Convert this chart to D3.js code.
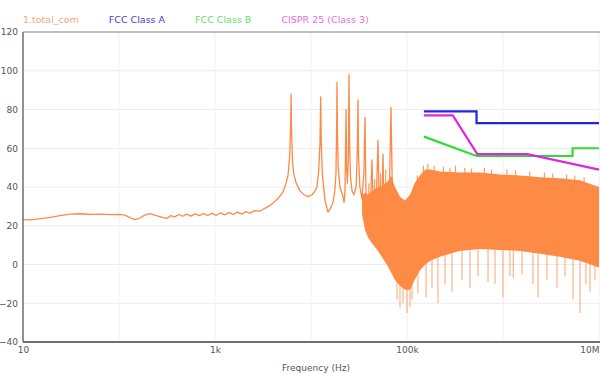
<!DOCTYPE html>
<html>
<head>
<meta charset="utf-8">
<script src="https://cdn.jsdelivr.net/npm/d3@7"></script>
<style>
  html, body { margin: 0; padding: 0; background: #fff; overflow: hidden; }
  svg { display: block; }
  text { font-family: "DejaVu Sans", sans-serif; }
</style>
</head>
<body>
<svg id="chart" width="600" height="374"></svg>
<script>
// ---- data (Hz, dBuV) ----
const seriesNames = ["1.total_com", "FCC Class A", "FCC Class B", "CISPR 25 (Class 3)"];

// clean part of the spectrum with its resonance peaks
const lowTrace = [
  [10, 23.2], [12, 23], [16, 23.8], [20, 24.5], [25, 25.3], [31, 26], [40, 26.2], [50, 25.8],
  [63, 26], [80, 25.7], [100, 25.9], [115, 25.5], [130, 24.2], [147, 23.2], [165, 24], [185, 25.5],
  [210, 26.3], [235, 25.5], [260, 24.8], [290, 24.2], [316, 23.8], [345, 25.2], [380, 24.6],
  [420, 25.8], [460, 24.9], [510, 26], [560, 25], [620, 26.1], [690, 25.2], [760, 26.3],
  [840, 25.3], [930, 26.4], [1030, 25.4], [1140, 26.6], [1260, 25.6], [1400, 26.8], [1550, 25.8],
  [1720, 27], [1900, 26], [2100, 27.3], [2320, 26.5], [2600, 27.8], [2940, 27.5], [3300, 29],
  [3740, 30.5], [4200, 32.5], [4700, 35], [5110, 37.5], [5500, 42], [5760, 46], [6000, 56],
  [6150, 75], [6200, 88], [6260, 72], [6400, 54], [6600, 47], [7000, 42], [7674, 38], [8500, 36],
  [9310, 35], [10300, 36], [11000, 38], [11548, 40], [12000, 48], [12400, 62], [12614, 86.5],
  [12800, 62], [13100, 48], [13335, 43], [14000, 33], [15030, 27], [16000, 29], [16940, 32],
  [17700, 38], [18200, 47], [18500, 70], [18660, 94], [18850, 70], [19200, 50], [20050, 40],
  [21540, 35], [22100, 32], [22600, 38], [23170, 80], [23500, 50], [23900, 42], [24500, 55],
  [24880, 98], [25300, 60], [25800, 45], [26730, 38], [28000, 36], [29500, 40], [30400, 60],
  [30860, 85], [31300, 55], [32300, 40], [33970, 34], [35600, 48], [36520, 76], [37300, 40],
  [38500, 22], [39250, 17], [41500, 30], [43190, 54], [44500, 28], [47000, 20], [49880, 64],
  [51500, 26], [54000, 18], [56230, 57], [58000, 22], [62000, 15], [66000, 45], [68100, 81],
  [70000, 45], [73000, 20], [78000, 5]
];

// dense noise band above ~30 kHz: upper and lower edge
const bandFreq = [33970, 36520, 39250, 43190, 49880, 56230, 63400, 68100, 75000, 84500, 95300,
  107500, 120000, 136500, 155000, 175000, 220000, 350000, 575000, 930000, 1500000, 2430000,
  3900000, 6300000, 10000000];
const bandHigh = [36, 37, 36, 38, 40, 41, 43, 46, 40, 35, 33, 36, 42, 46, 49, 49, 48, 47.5, 47.5,
  46.5, 46, 45, 44.5, 43.5, 40];
const bandLow = [26, 18, 14, 11, 7, 3, -1, -4, -8, -11, -13, -13, -8, -3, 0, 2, 4, 7, 8, 7.5, 7,
  5.5, 4, 2, -1.5];

// small spikes sticking out of the top edge of the band
const topSpikes = [
  [40000, 42], [46000, 44], [53000, 47], [60000, 49], [128000, 46], [148000, 51], [165000, 52],
  [192000, 51], [240000, 50.5], [280000, 50], [320000, 51], [400000, 50], [470000, 49.5],
  [640000, 50], [760000, 49], [1100000, 49], [1350000, 48.5], [1900000, 48], [2700000, 47.5],
  [3300000, 47], [4600000, 46.5], [5600000, 46], [7000000, 45]
];

// deeper downward spikes below the band
const dips = [
  [78700, -18], [84500, -22], [90800, -20], [100000, -25], [107500, -22], [112700, -18],
  [130000, -15], [158000, -17], [182000, -12], [210000, -20], [249000, -10], [294000, -14],
  [374000, -8], [453000, -12], [549000, -6], [698000, -9], [826000, -10], [1000000, -17],
  [1180000, -6], [1280000, -7], [1580000, -5], [2050000, -10], [2320000, -17], [2870000, -8],
  [3650000, -12], [4420000, -6], [5360000, -18], [6340000, -25], [7300000, -10], [8060000, -14],
  [9080000, -8]
];

// limit lines
const fccA = [[150000, 79], [530000, 79], [530000, 73], [10000000, 73]];
const fccB = [[150000, 66], [530000, 56], [5300000, 56], [5300000, 60], [10000000, 60]];
const cispr = [[150000, 77], [300000, 77], [540000, 57], [1800000, 57], [10000000, 49]];

const yTicks = [-40, -20, 0, 20, 40, 60, 80, 100, 120];
const xTicks = [10, 1e3, 1e5, 1e7];
const xTickLabels = ["10", "1k", "100k", "10M"];
const xGrid = [10, 100, 1e3, 1e4, 1e5, 1e6, 1e7];

// ---- layout ----
const colors = ["#fd8a45", "#2424dc", "#30dc30", "#dc28dc"];
const legendColors = ["#f7a679", "#4444cc", "#66dd66", "#e070e0"];
const plotL = 23, plotR = 599, plotT = 32, plotB = 342;

const x = d3.scaleLog().domain([10, 1e7]).range([plotL, plotR]);
const y = d3.scaleLinear().domain([-40, 120]).range([plotB, plotT]);

const svg = d3.select("#chart");

svg.append("defs").append("clipPath").attr("id", "plot")
  .append("rect").attr("x", plotL).attr("y", plotT).attr("width", plotR - plotL + 2).attr("height", plotB - plotT);

// grid
const grid = svg.append("g");
grid.selectAll(".hg").data(yTicks).join("line")
  .attr("x1", plotL).attr("x2", 600)
  .attr("y1", d => y(d)).attr("y2", d => y(d))
  .attr("stroke", "#ececec").attr("stroke-width", 1);
grid.selectAll(".vg").data(xGrid).join("line")
  .attr("x1", d => x(d)).attr("x2", d => x(d))
  .attr("y1", plotT).attr("y2", plotB)
  .attr("stroke", "#f0f0f0").attr("stroke-width", 1);

const plot = svg.append("g").attr("clip-path", "url(#plot)");

const line = d3.line().x(d => x(d[0])).y(d => y(d[1]));

// noise band
const band = bandFreq.map((f, i) => [f, bandLow[i], bandHigh[i]]);
plot.append("path").datum(band)
  .attr("d", d3.area().x(d => x(d[0])).y0(d => y(d[1])).y1(d => y(d[2])))
  .attr("fill", colors[0]);

const lowAt = d3.scaleLog().domain(bandFreq).range(bandLow);
const highAt = d3.scaleLog().domain(bandFreq).range(bandHigh);
plot.append("g").selectAll("line").data(dips).join("line")
  .attr("x1", d => x(d[0])).attr("x2", d => x(d[0]))
  .attr("y1", d => y(lowAt(d[0]) + 2)).attr("y2", d => y(d[1]))
  .attr("stroke", colors[0]).attr("stroke-width", 1.2).attr("stroke-opacity", 0.65);
plot.append("g").selectAll("line").data(topSpikes).join("line")
  .attr("x1", d => x(d[0])).attr("x2", d => x(d[0]))
  .attr("y1", d => y(highAt(d[0]) - 2)).attr("y2", d => y(d[1]))
  .attr("stroke", colors[0]).attr("stroke-width", 1.2).attr("stroke-opacity", 0.85);

// clean trace
plot.append("path").datum(lowTrace)
  .attr("d", line)
  .attr("fill", "none").attr("stroke", colors[0]).attr("stroke-width", 1.3)
  .attr("stroke-linejoin", "round");

// limits
[fccA, fccB, cispr].forEach((lim, i) => {
  plot.append("path").datum(lim)
    .attr("d", line)
    .attr("fill", "none").attr("stroke", colors[i + 1]).attr("stroke-width", 2.2);
});

// frame
svg.append("line").attr("x1", plotL).attr("x2", 600).attr("y1", plotT).attr("y2", plotT)
  .attr("stroke", "#8a8a8a").attr("stroke-width", 1.2);
svg.append("line").attr("x1", plotL).attr("x2", plotL).attr("y1", plotT).attr("y2", plotB)
  .attr("stroke", "#707070").attr("stroke-width", 1.5);
svg.append("line").attr("x1", plotL).attr("x2", 600).attr("y1", plotB).attr("y2", plotB)
  .attr("stroke", "#707070").attr("stroke-width", 1.8);

// axes labels
const yAxis = svg.append("g").attr("transform", `translate(${plotL},0)`)
  .call(d3.axisLeft(y).tickValues(yTicks).tickSize(0).tickPadding(5));
yAxis.select(".domain").remove();
yAxis.selectAll("text").attr("fill", "#555").style("font-size", "9px")
  .style("font-family", "DejaVu Sans, sans-serif");

const xAxis = svg.append("g").attr("transform", `translate(0,${plotB})`)
  .call(d3.axisBottom(x).tickValues(xTicks).tickFormat((d, i) => xTickLabels[i]).tickSize(0).tickPadding(5));
xAxis.select(".domain").remove();
xAxis.selectAll("text").attr("fill", "#555").style("font-size", "9px")
  .style("font-family", "DejaVu Sans, sans-serif")
  .attr("text-anchor", (d, i) => i === xTicks.length - 1 ? "end" : "middle");

svg.append("text").attr("x", 316).attr("y", 371)
  .attr("text-anchor", "middle").attr("fill", "#555").style("font-size", "9px")
  .text("Frequency (Hz)");

// legend
let lx = plotL;
seriesNames.forEach((name, i) => {
  const t = svg.append("text").attr("x", lx).attr("y", 23)
    .attr("fill", legendColors[i]).style("font-size", "9.5px").text(name);
  lx += t.node().getComputedTextLength() + 30;
});
</script>
</body>
</html>
